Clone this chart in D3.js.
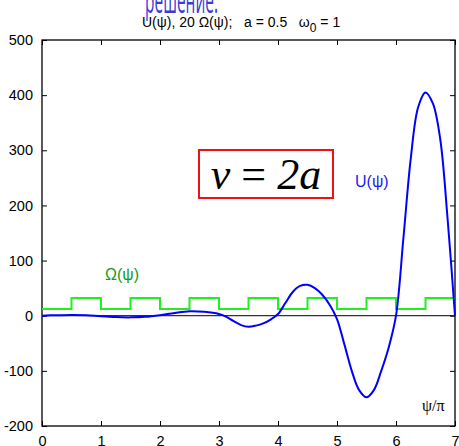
<!DOCTYPE html>
<html><head><meta charset="utf-8">
<script src="https://cdn.jsdelivr.net/npm/d3@7"></script>
<style>body{margin:0;background:#fff}svg{display:block}text{white-space:pre}</style>
</head><body>
<svg id="c" width="459" height="446"></svg>
<script>
// data
const xTicks = [0,1,2,3,4,5,6,7];
const yTicks = [-200,-100,0,100,200,300,400,500];
const omegaPsi = [0,0.5,0.5,1,1,1.5,1.5,2,2,2.5,2.5,3,3,3.5,3.5,4,4,4.5,4.5,5,5,5.5,5.5,6,6,6.5,6.5,7];
const omegaVal = [12,12,32,32,12,12,32,32,12,12,32,32,12,12,32,32,12,12,32,32,12,12,32,32,12,12,32,32];
const uPsi = [0,0.25,0.5,0.75,1,1.25,1.5,1.75,2,2.25,2.5,2.75,3,3.125,3.25,3.375,3.5,3.625,3.75,3.875,4,
  4.125,4.25,4.375,4.5,4.625,4.75,4.875,5,5.125,5.25,5.375,5.5,5.625,5.75,5.875,6,6.125,6.25,6.375,6.5,6.625,6.75,6.875,7];
const uVal = [0,1,1.5,1,-1,-2.5,-3,-2,1,5,8,7,3,-2,-10,-17,-20,-18,-14,-7,3,
  23,43,54,56,50,38,20,-6,-52,-100,-135,-148,-135,-100,-58,0,140,285,378,405,385,320,175,0];

const svg = d3.select('#c');
const L=42, R=455, T=40, B=426;
const x = d3.scaleLinear().domain([0,7]).range([L,R]);
const y = d3.scaleLinear().domain([-200,500]).range([B,T]);

// top big partly hidden text
svg.append('text').attr('x',145).attr('y',13).attr('font-family','Open Sans, sans-serif')
  .attr('font-size',34).attr('fill','#3a3ad6').attr('textLength',73).attr('lengthAdjust','spacingAndGlyphs')
  .text('решение.');

// title
const title = svg.append('text').attr('x',142).attr('y',27)
  .attr('font-family','Liberation Sans, Arial, sans-serif').attr('font-size',14).attr('fill','#000');
title.append('tspan').text('U(ψ), 20 Ω(ψ);   a = 0.5   ω');
title.append('tspan').attr('dy',5).attr('font-size',12).text('0');
title.append('tspan').attr('dy',-5).text(' = 1');

// zero line
svg.append('line').attr('x1',L).attr('x2',R).attr('y1',y(0)).attr('y2',y(0)).attr('stroke','#000').attr('stroke-width',1);

// axes with inward ticks
const font = 'Liberation Sans, Arial, sans-serif';
const fmt = d => String(d);
const gl = svg.append('g').attr('transform',`translate(${L},0)`).call(d3.axisLeft(y).tickValues(yTicks).tickSize(-5).tickPadding(9).tickFormat(fmt));
const gr = svg.append('g').attr('transform',`translate(${R},0)`).call(d3.axisRight(y).tickValues(yTicks).tickSize(-5).tickFormat(''));
const gb = svg.append('g').attr('transform',`translate(0,${B})`).call(d3.axisBottom(x).tickValues(xTicks).tickSize(-5).tickPadding(10).tickFormat(fmt));
const gt = svg.append('g').attr('transform',`translate(0,${T})`).call(d3.axisTop(x).tickValues(xTicks).tickSize(-5).tickFormat(''));
[gl,gr,gb,gt].forEach(g=>{
  g.selectAll('.domain').remove();
  g.selectAll('line').attr('stroke','#000').attr('stroke-width',1);
  g.selectAll('text').attr('font-family',font).attr('font-size',14.5).attr('fill','#000');
});
gb.selectAll('text').attr('dy','0.71em');
svg.append('rect').attr('x',L).attr('y',T).attr('width',R-L).attr('height',B-T).attr('fill','none').attr('stroke','#000').attr('stroke-width',1.3);

// omega step line
const omegaData = omegaPsi.map((p,i)=>[p,omegaVal[i]]);
svg.append('path').attr('d',d3.line().x(d=>x(d[0])).y(d=>y(d[1]))(omegaData))
  .attr('fill','none').attr('stroke','#22ee22').attr('stroke-width',2);

// U curve
const uData = uPsi.map((p,i)=>[p,uVal[i]]);
svg.append('path').attr('d',d3.line().curve(d3.curveCatmullRom.alpha(0.5)).x(d=>x(d[0])).y(d=>y(d[1]))(uData))
  .attr('fill','none').attr('stroke','#0000ff').attr('stroke-width',2);

// labels
svg.append('text').attr('x',105).attr('y',280).attr('font-family',font).attr('font-size',16).attr('fill','#1a9a1a').text('Ω(ψ)');
svg.append('text').attr('x',355).attr('y',187).attr('font-family',font).attr('font-size',16).attr('fill','#2222ee').text('U(ψ)');
svg.append('text').attr('x',422).attr('y',411).attr('font-family','Liberation Serif, Times New Roman, serif').attr('font-size',16).attr('fill','#000').text('ψ/π');

// formula box
svg.append('rect').attr('x',199).attr('y',150).attr('width',134).attr('height',48).attr('fill','#fff').attr('stroke','#ee1111').attr('stroke-width',2);
svg.append('text').attr('x',266).attr('y',189).attr('text-anchor','middle').attr('font-family','Liberation Serif, Times New Roman, serif')
  .attr('font-size',44).attr('font-style','italic').attr('fill','#000')
  .html('ν <tspan font-style="normal">=</tspan> 2a');
</script>
</body></html>
